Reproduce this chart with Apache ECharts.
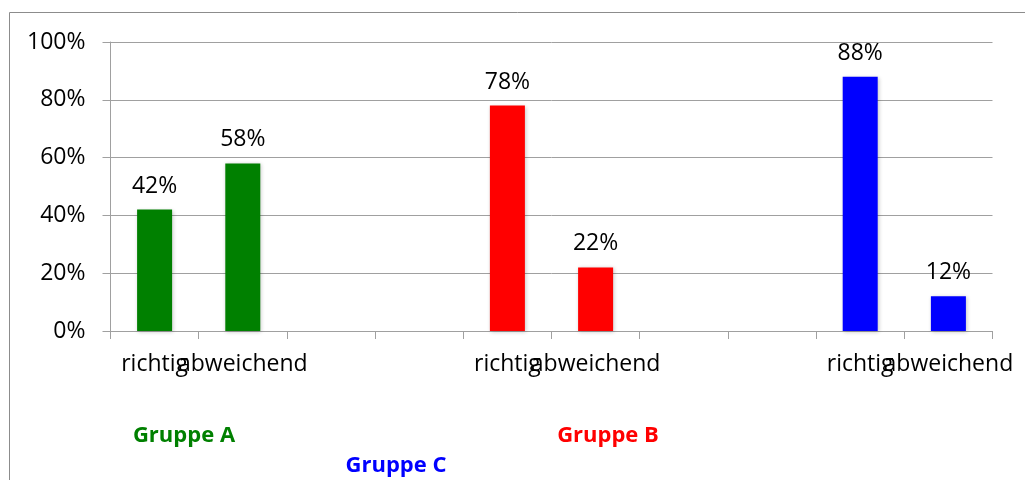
<!DOCTYPE html>
<html>
<head>
<meta charset="utf-8">
<script src="https://cdn.jsdelivr.net/npm/echarts@6/dist/echarts.min.js"></script>
<style>
  html, body { margin: 0; padding: 0; background: #fff; }
  #chart { width: 1025px; height: 480px; }
</style>
</head>
<body>
<div id="chart"></div>
<script>
// Categories along the x axis: each group has two answer columns, separated by two empty slots
const categories = ['richtig', 'abweichend', '', '', 'richtig', 'abweichend', '', '', 'richtig', 'abweichend'];
const groups = ['Gruppe A', 'Gruppe B', 'Gruppe C'];
const groupColors = ['#008000', '#ff0000', '#0000ff'];
// Share of answers per group (percent): richtig, abweichend
const gruppeA = [42, 58];
const gruppeB = [78, 22];
const gruppeC = [88, 12];
const yTicks = [0, 20, 40, 60, 80, 100];

const groupValues = [gruppeA, gruppeB, gruppeC];
const groupOffsets = [0, 4, 8];

const FONT = 'Open Sans';

const series = groupValues.map(function (vals, g) {
  const data = categories.map(function () { return '-'; });
  vals.forEach(function (v, i) { data[groupOffsets[g] + i] = v; });
  return {
    name: groups[g],
    type: 'bar',
    stack: 'all',
    barWidth: 35,
    data: data,
    itemStyle: {
      color: groupColors[g],
      shadowBlur: 4,
      shadowColor: 'rgba(0,0,0,0.22)',
      shadowOffsetX: 1,
      shadowOffsetY: 1
    },
    label: {
      show: true,
      position: 'top',
      distance: 12,
      formatter: '{c}%',
      color: '#000',
      fontFamily: FONT,
      fontSize: 23
    }
  };
});

// Group captions below the axis, coloured like their bars
const captionPos = [[184, 436], [608, 436], [396, 466]];
const captions = groups.map(function (name, g) {
  return {
    type: 'text',
    x: captionPos[g][0],
    y: captionPos[g][1],
    style: {
      text: name,
      fill: groupColors[g],
      font: 'bold 22px "' + FONT + '"',
      align: 'center',
      verticalAlign: 'middle'
    }
  };
});

const chart = echarts.init(document.getElementById('chart'));
chart.setOption({
  animation: false,
  backgroundColor: '#fff',
  grid: { left: 110.5, right: 32.5, top: 42, bottom: 149 },
  xAxis: {
    type: 'category',
    data: categories,
    boundaryGap: true,
    axisLine: { show: true, lineStyle: { color: '#a0a0a0', width: 1 } },
    axisTick: { show: true, interval: 0, length: 8, lineStyle: { color: '#a0a0a0' } },
    axisLabel: {
      interval: 0,
      margin: 22,
      color: '#000',
      fontFamily: FONT,
      fontSize: 23
    },
    splitLine: { show: false }
  },
  yAxis: {
    type: 'value',
    min: yTicks[0],
    max: yTicks[yTicks.length - 1],
    interval: 20,
    axisLine: { show: true, lineStyle: { color: '#a0a0a0', width: 1 } },
    axisTick: { show: true, length: 8, lineStyle: { color: '#a0a0a0' } },
    axisLabel: {
      formatter: '{value}%',
      margin: 25,
      color: '#000',
      fontFamily: FONT,
      fontSize: 23
    },
    splitLine: { show: true, lineStyle: { color: '#a0a0a0', width: 1 } }
  },
  series: series,
  graphic: [
    {
      type: 'rect',
      shape: { x: 9.5, y: 12.5, width: 1100, height: 1000 },
      style: { fill: 'none', stroke: '#8c8c8c', lineWidth: 1 },
      silent: true
    }
  ].concat(captions)
});
</script>
</body>
</html>
